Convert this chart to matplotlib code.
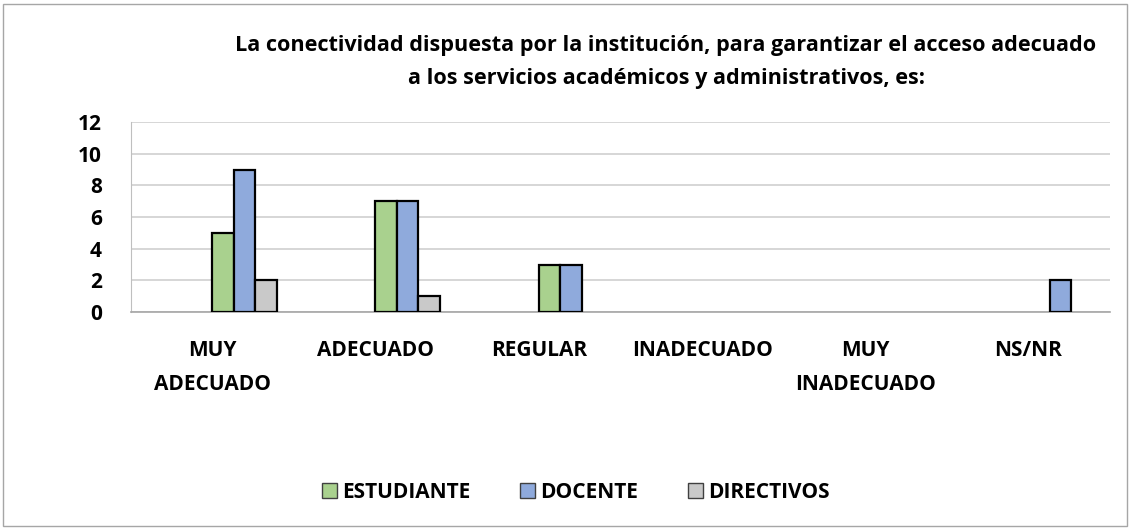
import matplotlib.pyplot as plt
import numpy as np
from matplotlib.patches import Rectangle

plt.rcParams['font.family'] = ['Open Sans', 'DejaVu Sans']

categories = ['MUY\nADECUADO', 'ADECUADO', 'REGULAR', 'INADECUADO', 'MUY\nINADECUADO', 'NS/NR']
series_names = ['ESTUDIANTE', 'DOCENTE', 'DIRECTIVOS']
estudiante = [5, 7, 3, 0, 0, 0]
docente = [9, 7, 3, 0, 0, 2]
directivos = [2, 1, 0, 0, 0, 0]
yticks = [0, 2, 4, 6, 8, 10, 12]
title = ('La conectividad dispuesta por la institución, para garantizar el acceso adecuado\n'
         'a los servicios académicos y administrativos, es:')

colors = ['#A9D18E', '#8FAADC', '#C9C9C9']

fig = plt.figure(figsize=(11.32, 5.29), dpi=100)
ax = fig.add_axes([131 / 1132, 1 - 312 / 529, (1110 - 131) / 1132, (312 - 122) / 529])

x = np.arange(len(categories))
w = 0.132
offsets = [0.064, 0.196, 0.328]
handles = []
for vals, off, col, name in zip([estudiante, docente, directivos], offsets, colors, series_names):
    v = np.array(vals, dtype=float)
    mask = v > 0
    ax.bar(x[mask] + off, v[mask], width=w, color=col, edgecolor='black', linewidth=1.6, zorder=3)
    handles.append(Rectangle((0, 0), 1, 1, facecolor=col, edgecolor='#404040', linewidth=1.0))

ax.set_xlim(-0.5, len(categories) - 0.5)
ax.set_ylim(0, 12)
ax.set_yticks(yticks)
ax.set_yticklabels([str(t) for t in yticks], fontsize=15, fontweight='bold')
ax.set_xticks(x)
ax.set_xticklabels(categories, fontsize=15, fontweight='bold', linespacing=1.8)
ax.tick_params(axis='y', length=0, pad=21)
ax.tick_params(axis='x', length=0, pad=20)
ax.grid(axis='y', color='#CFCFCF', linewidth=1.2, zorder=0)
for s in ['top', 'right']:
    ax.spines[s].set_visible(False)
ax.spines['left'].set_color('#BFBFBF')
ax.spines['bottom'].set_color('#A6A6A6')
ax.spines['bottom'].set_linewidth(1.2)

fig.text(666 / 1132, 1 - 35 / 529, title, ha='center', va='top', fontsize=15.6,
         fontweight='bold', linespacing=1.78)

fig.legend(handles, series_names, loc='center', bbox_to_anchor=(576 / 1132, 1 - 492 / 529),
           ncol=3, frameon=False, prop={'weight': 'bold', 'size': 15},
           handlelength=0.7, handleheight=0.7, handletextpad=0.25, columnspacing=2.4)

fig.add_artist(Rectangle((3 / 1132, 3 / 529), 1124 / 1132, 522 / 529, transform=fig.transFigure,
                         fill=False, edgecolor='#A6A6A6', linewidth=1.0))

fig.savefig('out.png', dpi=100)
